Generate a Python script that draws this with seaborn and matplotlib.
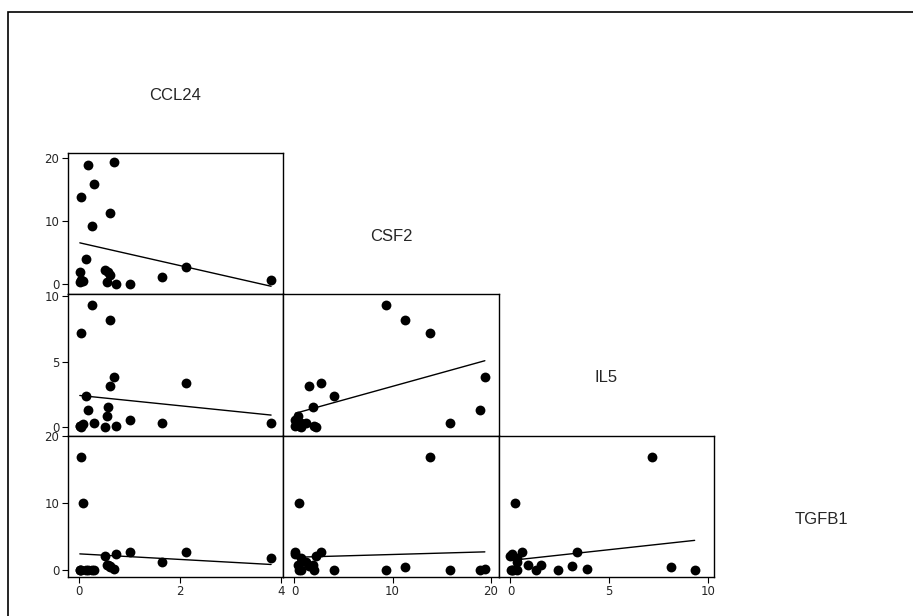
import numpy as np
import pandas as pd
import matplotlib
matplotlib.use('Agg')
import matplotlib.pyplot as plt
from matplotlib.patches import Rectangle
import seaborn as sns

# one row per subject
ccl24 = [0.26, 0.61, 0.03, 0.69, 0.17, 0.30, 0.61, 2.12, 0.14, 0.56,
         0.51, 0.54, 0.72, 1.00, 1.65, 3.81, 0.08, 0.01, 0.04, 0.02]
csf2 = [9.3, 11.3, 13.8, 19.4, 18.9, 15.9, 1.45, 2.7, 4.0, 1.9,
        2.2, 0.4, 0.1, 0.1, 1.15, 0.63, 0.5, 1.95, 0.63, 0.45]
il5 = [9.32, 8.14, 7.15, 3.85, 1.3, 0.33, 3.13, 3.36, 2.42, 1.53,
       0.0, 0.9, 0.08, 0.56, 0.33, 0.33, 0.25, 0.1, 0.05, 0.12]
tgfb1 = [0.05, 0.5, 16.9, 0.15, 0.05, 0.05, 0.6, 2.75, 0.05, 0.85,
         2.1, 0.85, 2.5, 2.75, 1.25, 1.8, 10.0, 0.05, 0.05, 0.05]

names = ['CCL24', 'CSF2', 'IL5', 'TGFB1']
ticks = [[0, 2, 4], [0, 10, 20], [0, 5, 10], [0, 10, 20]]
limits = [(-0.23, 4.05), (-1.15, 20.8), (-0.6, 10.3), (-1.0, 20.1)]
ylimits = [(-1.58, 20.79), (-1.58, 20.79), (-0.63, 10.13), (-1.0, 20.1)]

df = pd.DataFrame({'CCL24': ccl24, 'CSF2': csf2, 'IL5': il5, 'TGFB1': tgfb1})

sns.set_style('white')
plt.rcParams['font.family'] = ['Liberation Sans', 'DejaVu Sans']

g = sns.PairGrid(df, corner=True, despine=False, height=1.5)
g.map_lower(sns.regplot, ci=None, color='k', truncate=True,
            scatter_kws={'s': 50, 'alpha': 1, 'linewidths': 0},
            line_kws={'lw': 1})

fig = g.figure
fig.set_size_inches(9.13, 6.16)
fig.subplots_adjust(left=0.0742, right=1.018, top=0.981, bottom=0.0633,
                    wspace=0, hspace=0)

n = len(names)
for i in range(n):
    for j in range(n):
        ax = g.axes[i, j]
        if ax is None:
            continue
        ax.set_xlabel('')
        ax.set_ylabel('')
        if i == j:
            ax.axis('off')
            ax.text(0.5, 0.41, names[i], transform=ax.transAxes,
                    ha='center', va='center', fontsize=12)
            continue
        ax.set_xlim(limits[j])
        ax.set_ylim(ylimits[i])
        ax.set_xticks(ticks[j])
        ax.set_yticks(ticks[i])
        for s in ax.spines.values():
            s.set_color('k')
            s.set_linewidth(1)
        ax.tick_params(direction='out', length=4, width=0.8, color='k',
                       labelsize=8.5, pad=2, left=(j == 0), bottom=(i == n - 1))
        for lab in ax.get_xticklabels() + ax.get_yticklabels():
            lab.set_fontfamily('DejaVu Sans')
        if j != 0:
            ax.tick_params(labelleft=False)
        if i != n - 1:
            ax.tick_params(labelbottom=False)

fig.add_artist(Rectangle((8 / 913, -0.1), 1.2, 0.9805 + 0.1, fill=False,
                         lw=1.2, ec='k', transform=fig.transFigure))

fig.savefig('out.png', dpi=100)
